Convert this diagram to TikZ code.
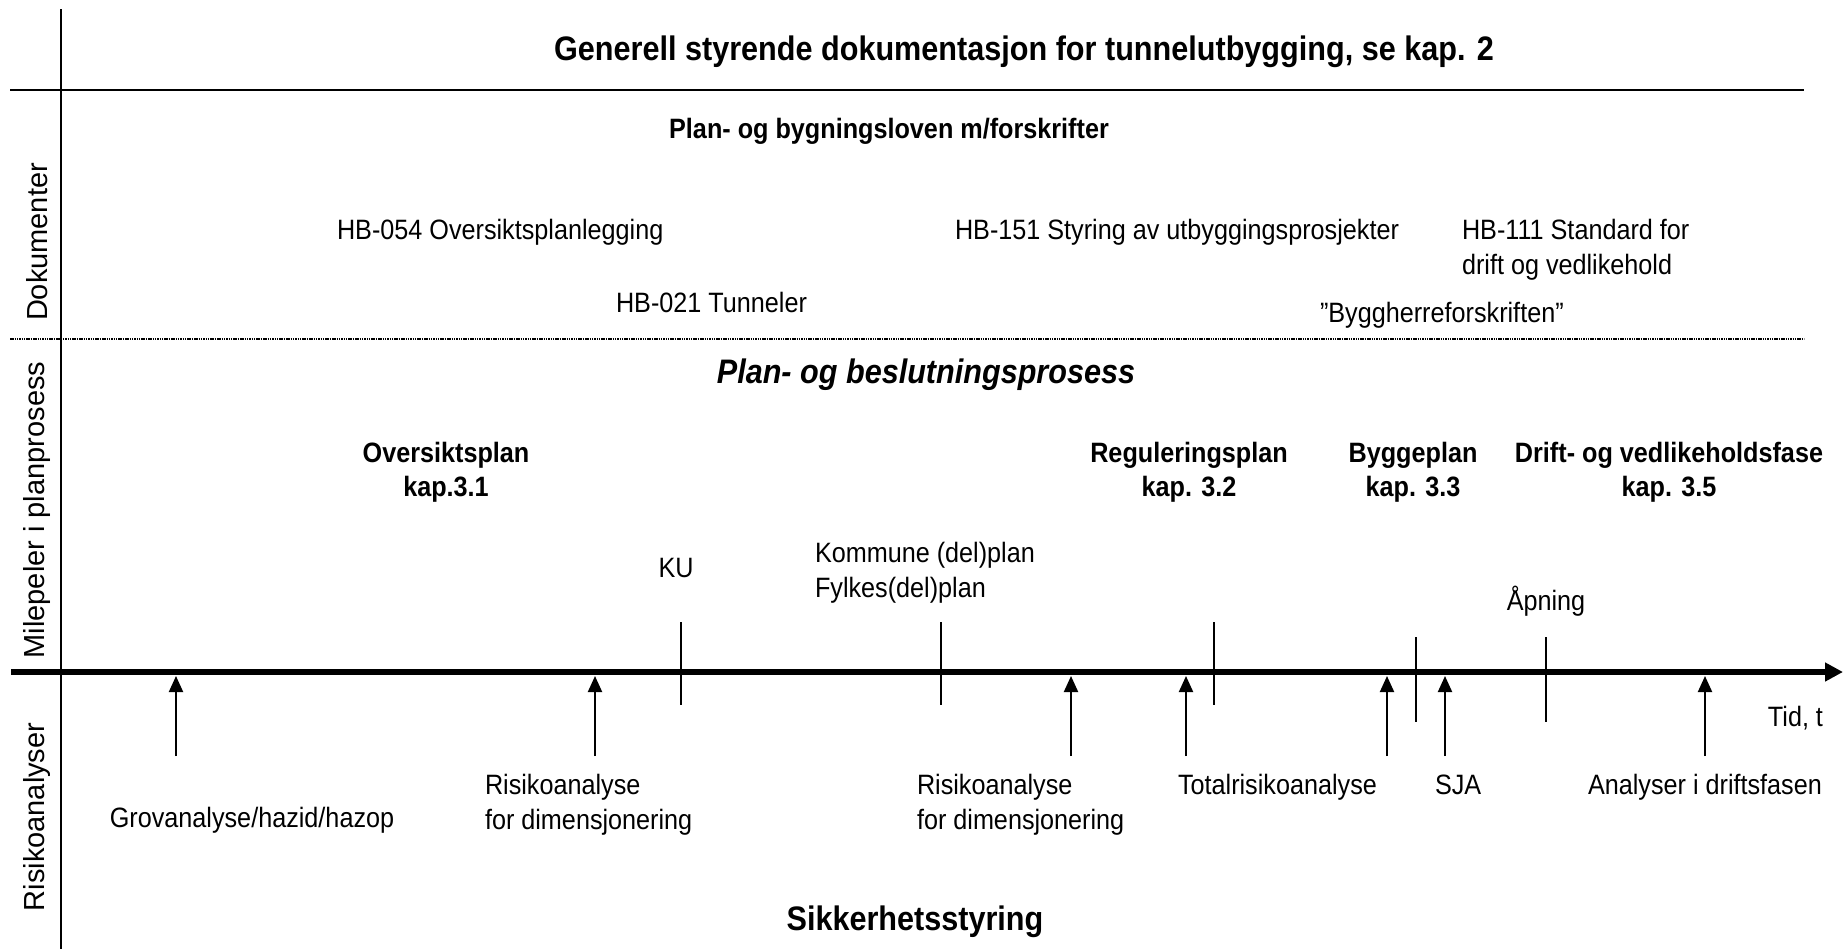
\documentclass[tikz,border=0pt]{standalone}
\usepackage{fontspec}
\setmainfont[FakeStretch=0.9]{Liberation Sans}
\newfontfamily\sidefont{Liberation Sans}
\usetikzlibrary{arrows.meta}
\begin{document}
\begin{tikzpicture}[x=0.5pt,y=-0.5pt,
  every node/.style={inner sep=0pt, outer sep=0pt},
  norm/.style={font=\fontsize{14}{17}\selectfont},
  bld/.style={font=\fontsize{14}{17}\selectfont\bfseries},
  big/.style={font=\fontsize{17}{20}\selectfont\bfseries},
  bigit/.style={font=\fontsize{17}{20}\selectfont\bfseries\itshape},
  side/.style={font=\sidefont\fontsize{14.5}{17}\selectfont, rotate=90},
  frame/.style={line width=1pt},
  hline/.style={line width=1.1pt},
  dotline/.style={line width=1pt, dash pattern=on 0.75pt off 0.4pt},
  axis/.style={line width=3.3pt, -{Triangle[length=9pt,width=9pt]}},
  tick/.style={line width=0.6pt},
  uparrow/.style={line width=1pt, -{Triangle[length=8pt,width=7pt]}}]
\useasboundingbox (0,0) rectangle (1843,949);

% frame lines
\coordinate (vtop) at (61,9);
\coordinate (vbot) at (61,949);
\coordinate (tl) at (10,90);
\coordinate (tr) at (1804,90);
\coordinate (dl) at (10,339);
\coordinate (dr) at (1804,339);
\coordinate (axl) at (11,672);
\coordinate (axr) at (1843,672);
\draw[frame] (vtop) -- (vbot);
\draw[hline] (tl) -- (tr);
\draw[dotline] (dl) -- (dr);
\draw[axis] (axl) -- (axr);

% side labels
\node[side] (sdok) at (37,242) {Dokumenter};
\node[side] (smil) at (37,510) {Milepeler i planprosess};
\node[side] (srisk) at (37,817) {Risikoanalyser};

% top
\node[big, anchor=base] (title) at (1024,60) {Generell styrende dokumentasjon for tunnelutbygging, se kap. 2};
\node[bld, anchor=base] (pbl) at (889,138) {Plan- og bygningsloven m/forskrifter};
\node[norm, anchor=base west] (hb054) at (337,239) {HB-054 Oversiktsplanlegging};
\node[norm, anchor=base west] (hb151) at (955,239) {HB-151 Styring av utbyggingsprosjekter};
\node[norm, anchor=base west] (hb111a) at (1462,239) {HB-111 Standard for};
\node[norm, anchor=base west] (hb111b) at (1462,274) {drift og vedlikehold};
\node[norm, anchor=base west] (hb021) at (616,312) {HB-021 Tunneler};
\node[norm, anchor=base west] (bhf) at (1320,322) {”Byggherreforskriften”};

% plan process
\node[bigit, anchor=base] (pbp) at (926,383) {Plan- og beslutningsprosess};
\node[bld, anchor=base] (ovp1) at (446,462) {Oversiktsplan};
\node[bld, anchor=base] (ovp2) at (446,496) {kap.3.1};
\node[bld, anchor=base] (reg1) at (1189,462) {Reguleringsplan};
\node[bld, anchor=base] (reg2) at (1189,496) {kap. 3.2};
\node[bld, anchor=base] (byg1) at (1413,462) {Byggeplan};
\node[bld, anchor=base] (byg2) at (1413,496) {kap. 3.3};
\node[bld, anchor=base] (dri1) at (1669,462) {Drift- og vedlikeholdsfase};
\node[bld, anchor=base] (dri2) at (1669,496) {kap. 3.5};
\node[norm, anchor=base] (ku) at (676,577) {KU};
\node[norm, anchor=base west] (kom) at (815,562) {Kommune (del)plan};
\node[norm, anchor=base west] (fyl) at (815,597) {Fylkes(del)plan};
\node[norm, anchor=base] (apn) at (1546,610) {Åpning};

% milestone ticks
\coordinate (t1a) at (681,622); \coordinate (t1b) at (681,705);
\coordinate (t2a) at (941,622); \coordinate (t2b) at (941,705);
\coordinate (t3a) at (1214,622); \coordinate (t3b) at (1214,705);
\coordinate (t4a) at (1416,637); \coordinate (t4b) at (1416,722);
\coordinate (t5a) at (1546,637); \coordinate (t5b) at (1546,722);
\draw[tick] (t1a) -- (t1b);
\draw[tick] (t2a) -- (t2b);
\draw[tick] (t3a) -- (t3b);
\draw[tick] (t4a) -- (t4b);
\draw[tick] (t5a) -- (t5b);

% risk analysis arrows
\foreach \i/\x in {1/176,2/595,3/1071,4/1186,5/1387,6/1445,7/1705}{
  \coordinate (r\i b) at (\x,756);
  \coordinate (r\i t) at (\x,676);
  \draw[uparrow] (r\i b) -- (r\i t);
}

\node[norm, anchor=base east] (tid) at (1823,726) {Tid, t};
\node[norm, anchor=base] (grov) at (252,827) {Grovanalyse/hazid/hazop};
\node[norm, anchor=base west] (ra1a) at (485,794) {Risikoanalyse};
\node[norm, anchor=base west] (ra1b) at (485,829) {for dimensjonering};
\node[norm, anchor=base west] (ra2a) at (917,794) {Risikoanalyse};
\node[norm, anchor=base west] (ra2b) at (917,829) {for dimensjonering};
\node[norm, anchor=base west] (tot) at (1178,794) {Totalrisikoanalyse};
\node[norm, anchor=base west] (sja) at (1435,794) {SJA};
\node[norm, anchor=base west] (adf) at (1588,794) {Analyser i driftsfasen};
\node[big, anchor=base] (sik) at (915,930) {Sikkerhetsstyring};
\end{tikzpicture}
\end{document}
